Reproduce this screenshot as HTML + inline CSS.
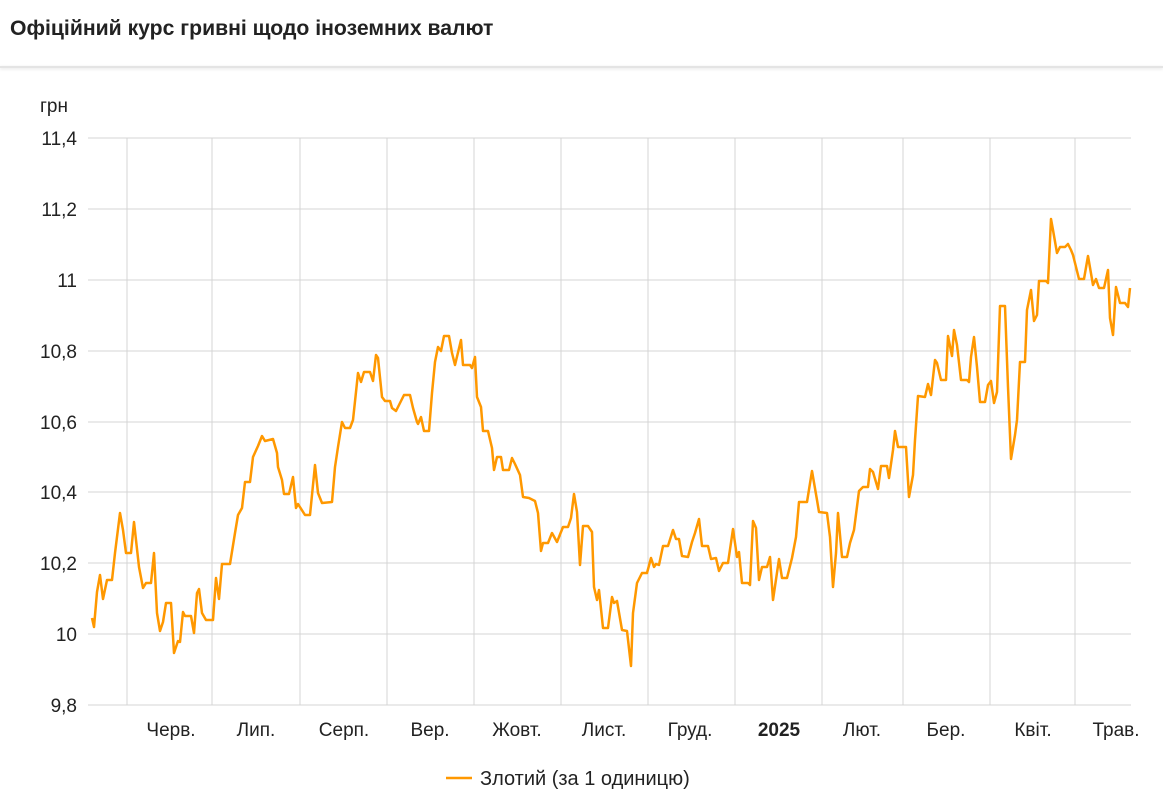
<!DOCTYPE html>
<html><head><meta charset="utf-8"><style>
body{margin:0;width:1163px;height:808px;background:#fff;font-family:"Liberation Sans",sans-serif;overflow:hidden;position:relative}
.t{position:absolute;left:10px;top:17px;font-size:21.2px;font-weight:bold;color:#222}
.sep{position:absolute;left:0;top:66px;width:1163px;height:2px;background:#e4e4e4;box-shadow:0 1px 3px rgba(0,0,0,.12)}
</style></head><body>
<div class="t">Офіційний курс гривні щодо іноземних валют</div>
<div class="sep"></div>
<svg width="1163" height="808" style="position:absolute;left:0;top:0" font-family="Liberation Sans, sans-serif">
<g stroke="#d4d4d4" stroke-width="1">
<line x1="88" y1="138" x2="1131" y2="138"/><line x1="88" y1="209" x2="1131" y2="209"/><line x1="88" y1="280" x2="1131" y2="280"/><line x1="88" y1="351" x2="1131" y2="351"/><line x1="88" y1="422" x2="1131" y2="422"/><line x1="88" y1="492" x2="1131" y2="492"/><line x1="88" y1="563" x2="1131" y2="563"/><line x1="88" y1="634" x2="1131" y2="634"/><line x1="88" y1="705" x2="1131" y2="705"/>
<line x1="127" y1="138" x2="127" y2="705"/><line x1="212" y1="138" x2="212" y2="705"/><line x1="300" y1="138" x2="300" y2="705"/><line x1="387" y1="138" x2="387" y2="705"/><line x1="474" y1="138" x2="474" y2="705"/><line x1="561" y1="138" x2="561" y2="705"/><line x1="648" y1="138" x2="648" y2="705"/><line x1="735" y1="138" x2="735" y2="705"/><line x1="822" y1="138" x2="822" y2="705"/><line x1="903" y1="138" x2="903" y2="705"/><line x1="990" y1="138" x2="990" y2="705"/><line x1="1075" y1="138" x2="1075" y2="705"/>
</g>
<g font-size="19" fill="#222" text-anchor="end">
<text x="77" y="145">11,4</text><text x="77" y="216">11,2</text><text x="77" y="287">11</text><text x="77" y="358">10,8</text><text x="77" y="429">10,6</text><text x="77" y="499">10,4</text><text x="77" y="570">10,2</text><text x="77" y="641">10</text><text x="77" y="712">9,8</text>
</g>
<text x="40" y="112" font-size="19" fill="#222">грн</text>
<g font-size="19" fill="#222" text-anchor="middle">
<text x="171" y="736">Черв.</text><text x="256" y="736">Лип.</text><text x="344" y="736">Серп.</text><text x="430" y="736">Вер.</text><text x="517" y="736">Жовт.</text><text x="604" y="736">Лист.</text><text x="690" y="736">Груд.</text><text x="779" y="736" font-weight="bold">2025</text><text x="862" y="736">Лют.</text><text x="946" y="736">Бер.</text><text x="1033" y="736">Квіт.</text><text x="1116" y="736">Трав.</text>
</g>
<polyline fill="none" stroke="#ff9800" stroke-width="2.5" stroke-linejoin="round" points="92,618 94,627 97,592 100,575 103,599 107,580 112,580 115,553 120,513 123,530 126,553 131,553 134,522 139,567 143,588 146,583 151,583 154,553 157,613 160,631 163,622 166,603 171,603 174,653 178,641 180,642 183,612 185,616 191,616 194,633 197,593 199,589 202,613 206,620 213,620 216,578 219,599 222,564 230,564 235,533 238,515 242,508 245,482 250,482 253,457 258,446 262,436 265,441 273,439 277,453 278,467 282,480 284,494 289,494 293,477 296,508 298,504 305,515 310,515 315,465 318,493 322,503 332,502 335,467 338,447 342,422 345,428 350,428 353,420 356,392 358,373 361,382 364,372 370,372 373,381 376,355 378,358 382,397 385,401 390,401 392,408 396,411 400,403 404,395 410,395 413,408 417,422 418,424 421,417 424,431 429,431 432,393 435,362 438,347 441,351 444,336 449,336 452,353 455,365 461,340 463,365 470,365 472,368 475,357 477,397 481,407 483,431 488,431 492,448 494,470 497,457 501,457 503,470 509,470 512,458 515,464 520,475 523,497 529,498 535,501 538,513 541,551 543,543 548,543 552,533 557,542 563,527 568,527 571,518 574,494 577,512 580,565 583,526 588,526 592,532 594,587 597,600 599,590 603,628 608,628 612,597 614,603 617,601 622,630 627,631 631,666 633,613 637,583 642,573 647,573 651,558 654,567 656,564 659,565 663,546 668,546 673,530 676,539 679,539 682,556 688,557 692,542 695,533 699,519 702,546 708,546 711,559 716,558 719,571 723,563 728,563 733,529 737,557 739,552 742,583 748,583 750,585 753,521 756,528 759,580 762,567 767,567 770,557 773,600 779,559 782,578 787,578 792,558 796,537 799,502 807,502 812,471 817,500 819,512 827,513 830,537 833,587 836,553 838,513 842,557 847,557 850,543 854,530 859,491 863,487 868,487 870,469 873,472 878,489 881,466 887,466 889,478 893,450 895,431 898,447 906,447 909,497 913,475 915,440 918,396 925,397 928,384 931,395 935,360 937,363 941,380 946,380 948,336 952,356 954,330 957,345 961,380 967,380 969,382 971,357 974,337 977,367 980,402 985,402 988,385 991,381 994,403 997,392 1000,306 1005,306 1008,387 1011,459 1015,435 1017,420 1020,362 1025,362 1027,310 1031,290 1034,321 1037,315 1039,281 1046,281 1048,283 1051,219 1053,230 1057,253 1060,247 1065,247 1068,244 1071,250 1073,255 1079,279 1084,279 1088,256 1093,285 1096,279 1099,288 1104,288 1108,270 1110,318 1113,335 1116,287 1120,303 1125,303 1128,307 1130,288"/>
<line x1="446" y1="778" x2="472" y2="778" stroke="#ff9800" stroke-width="2.5"/>
<text x="480" y="785" font-size="20" fill="#222">Злотий (за 1 одиницю)</text>
</svg>
</body></html>
